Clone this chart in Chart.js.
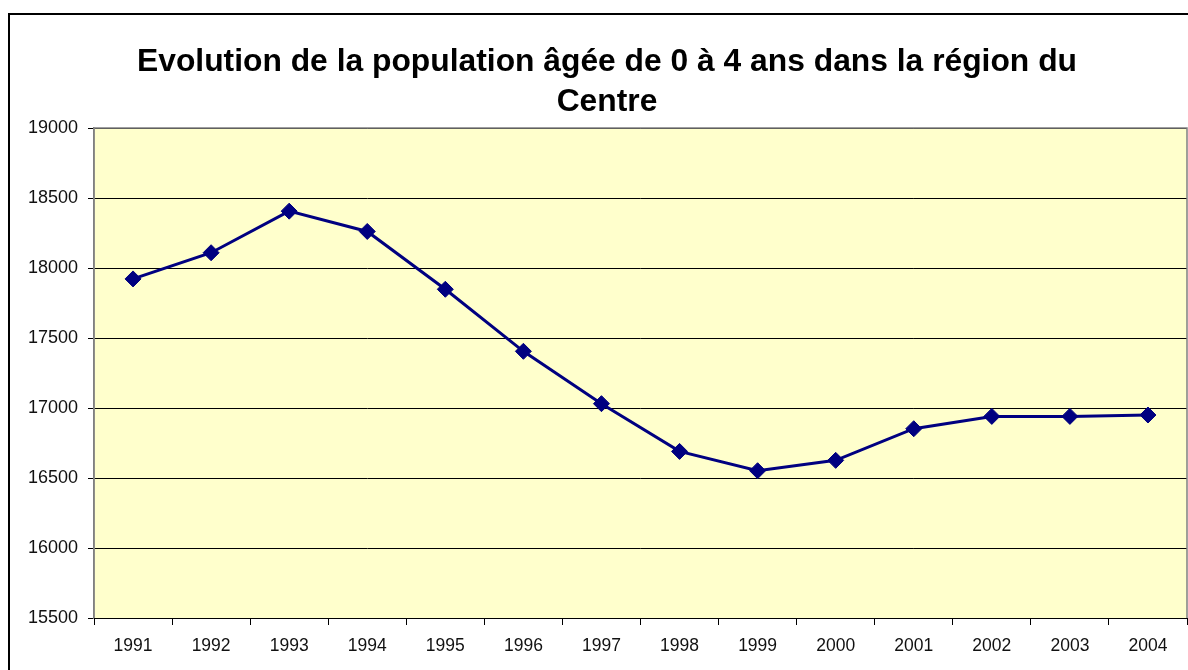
<!DOCTYPE html>
<html lang="fr">
<head>
<meta charset="utf-8">
<title>Population 0-4 ans - région Centre</title>
<script src="https://cdn.jsdelivr.net/npm/chart.js@4.4.0/dist/chart.umd.min.js"></script>
<style>
  html, body { margin: 0; padding: 0; background: #fff; overflow: hidden; }
  #frame {
    position: absolute; left: 8px; top: 13px;
    width: 1194px; height: 655px;
    border: 2px solid #000;
  }
  #chart { display: block; }
</style>
</head>
<body>
<div id="frame"><canvas id="chart" width="1194" height="655"></canvas></div>
<script>
// données
const years = ['1991','1992','1993','1994','1995','1996','1997','1998','1999','2000','2001','2002','2003','2004'];
const population = [17922, 18109, 18406, 18261, 17848, 17405, 17031, 16690, 16552, 16626, 16852, 16940, 16940, 16950];
const yMin = 15500;
const yMax = 19000;
const yStep = 500;
const titleLines = ['Evolution de la population âgée de 0 à 4 ans dans la région du', 'Centre'];

const FONT = '"Liberation Sans", Arial, Helvetica, sans-serif';

// fond jaune + cadre gris de la zone de tracé (style Excel)
const plotFrame = {
  id: 'plotFrame',
  beforeDraw(chart) {
    const { ctx, chartArea: a } = chart;
    ctx.save();
    ctx.fillStyle = '#FFFFCC';
    ctx.fillRect(a.left, a.top, a.right - a.left, a.bottom - a.top);
    ctx.restore();
  },
  beforeDatasetsDraw(chart) {
    const { ctx, chartArea: a } = chart;
    ctx.save();
    ctx.strokeStyle = '#808080';
    ctx.lineWidth = 1.5;
    ctx.beginPath();
    ctx.moveTo(a.left, a.bottom);
    ctx.lineTo(a.left, a.top);
    ctx.lineTo(a.right, a.top);
    ctx.lineTo(a.right, a.bottom);
    ctx.stroke();
    ctx.strokeStyle = '#000';
    ctx.lineWidth = 1;
    ctx.beginPath();
    ctx.moveTo(a.left, a.bottom + 0.5);
    ctx.lineTo(a.right, a.bottom + 0.5);
    ctx.stroke();
    ctx.restore();
  }
};

new Chart(document.getElementById('chart').getContext('2d'), {
  type: 'line',
  data: {
    labels: years,
    datasets: [{
      data: population,
      borderColor: '#000080',
      borderWidth: 3,
      backgroundColor: '#000080',
      pointStyle: 'rectRot',
      pointRadius: 8,
      pointBorderWidth: 1,
      pointBackgroundColor: '#000080',
      pointBorderColor: '#000080',
      tension: 0,
      fill: false,
    }],
  },
  options: {
    responsive: false,
    animation: false,
    devicePixelRatio: 1,
    // marges symétriques pour garder le titre centré sur le cadre
    layout: { padding: { left: 17, right: 17, top: 0, bottom: 0 } },
    plugins: {
      legend: { display: false },
      tooltip: { enabled: false },
      title: {
        display: true,
        text: titleLines,
        color: '#000',
        font: { family: FONT, size: 31.8, weight: 'bold', lineHeight: 40 / 31.8 },
        padding: { top: 27, bottom: 6 },
      },
    },
    scales: {
      x: {
        offset: true,
        grid: {
          offset: true,
          drawOnChartArea: false,
          drawTicks: true,
          tickLength: 7,
          color: '#000',
        },
        border: { color: '#000', width: 1 },
        ticks: {
          color: '#111',
          padding: 11,
          maxRotation: 0,
          autoSkip: false,
          font: { family: FONT, size: 17.5 },
        },
        afterFit(scale) { scale.height = 52; },
      },
      y: {
        min: yMin,
        max: yMax,
        ticks: {
          stepSize: yStep,
          color: '#111',
          padding: 10,
          font: { family: FONT, size: 18 },
          callback: (v) => String(v),
        },
        grid: {
          color: '#000',
          lineWidth: 1,
          tickLength: 6,
          tickColor: '#000',
        },
        border: { color: '#808080', width: 1.5 },
        afterFit(scale) { scale.width = 67; },
      },
    },
  },
  plugins: [plotFrame],
});
</script>
</body>
</html>
